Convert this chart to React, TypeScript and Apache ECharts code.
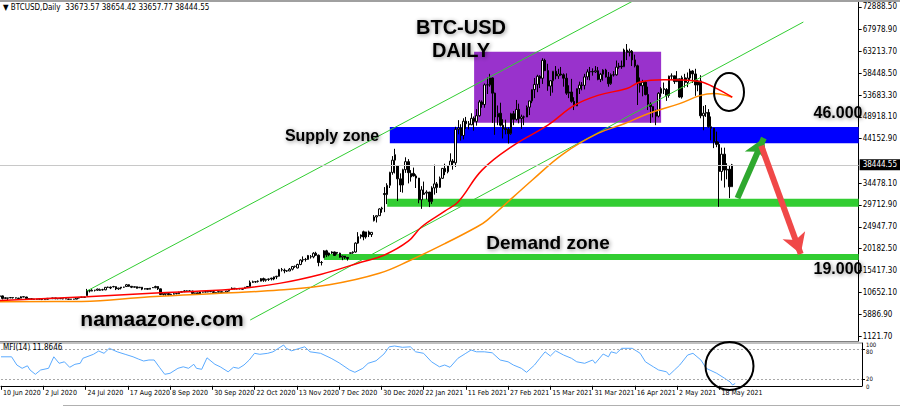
import React, { useEffect, useRef } from 'react';
import * as echarts from 'echarts';

// ---- time axis: one label every 16 bars, starting at bar 0
const dateTicks = ['10 Jun 2020', '2 Jul 2020', '24 Jul 2020', '17 Aug 2020', '8 Sep 2020', '30 Sep 2020', '22 Oct 2020', '13 Nov 2020', '7 Dec 2020', '30 Dec 2020', '22 Jan 2021', '11 Feb 2021', '27 Feb 2021', '15 Mar 2021', '31 Mar 2021', '16 Apr 2021', '2 May 2021', '18 May 2021'];
const barsPerTick = 16;
const slotCount = 327;

// ---- price axis tick labels
const priceTicks = [1121.7, 5886.9, 10652.1, 15417.3, 20182.5, 24947.7, 29712.9, 34478.1, 44152.9, 48918.1, 53683.3, 58448.5, 63213.7, 67978.9, 72888.5];
const mfiTicks = [0, 20, 80, 100];
const mfiLevels = [80, 20];
const lastBar = { open: 33673.57, high: 38654.42, low: 33657.77, close: 38444.55 };
const mfiLast = 11.8646;

// ---- daily bars, thousands of USD: [open, high, low, close]
const jun2020 = [[9.77,9.99,9.69,9.87],[9.87,9.94,9.08,9.32],[9.32,9.55,9.25,9.47],[9.38,9.49,8.91,9.43],[9.43,9.58,9.38,9.52],[9.52,9.56,9.28,9.46],[9.46,9.48,9.30,9.39],[9.39,9.44,9.23,9.30],[9.36,9.78,9.35,9.68],[9.68,9.69,9.57,9.63],[9.63,9.66,9.23,9.29],[9.29,9.32,9.07,9.25],[9.25,9.30,9.05,9.16],[9.10,9.23,9.02,9.19],[9.19,9.20,9.08,9.14],[9.14,9.30,9.10,9.23]];
const jul2020 = [[9.23,9.27,8.95,9.09],[9.09,9.13,9.05,9.06],[9.13,9.36,9.06,9.34],[9.34,9.36,9.20,9.25],[9.25,9.45,9.23,9.43],[9.43,9.43,9.17,9.23],[9.23,9.31,9.13,9.29],[9.30,9.34,9.20,9.24],[9.24,9.28,9.12,9.25],[9.25,9.27,9.17,9.19],[9.19,9.21,9.00,9.13],[9.13,9.18,9.09,9.15],[9.17,9.19,9.13,9.16],[9.16,9.40,9.15,9.39],[9.39,9.54,9.28,9.53],[9.53,9.64,9.46,9.61],[9.61,9.63,9.47,9.55],[9.93,11.39,9.90,11.04],[11.04,11.24,10.62,10.92],[10.92,11.34,10.87,11.10],[11.10,11.17,10.84,11.11],[11.11,11.45,10.98,11.35]];
const aug2020 = [[11.06,11.47,10.97,11.23],[11.23,11.42,11.03,11.19],[11.19,11.79,11.11,11.74],[11.74,11.90,11.59,11.77],[11.77,11.91,11.35,11.60],[11.90,12.06,11.70,11.88],[11.88,11.94,11.14,11.40],[11.40,11.62,11.17,11.58],[11.58,11.80,11.29,11.78],[11.78,11.85,11.64,11.77],[11.91,12.47,11.86,12.30],[12.30,12.40,11.82,11.96],[11.96,12.03,11.57,11.76],[11.76,11.90,11.68,11.87],[11.87,11.88,11.50,11.52],[11.65,11.80,11.59,11.76],[11.76,11.77,11.12,11.34],[11.34,11.53,11.26,11.47],[11.47,11.59,11.15,11.32],[11.32,11.55,11.30,11.54]];
const sep2020 = [[11.68,11.76,11.60,11.66],[11.66,12.09,11.54,11.92],[11.92,11.95,11.16,11.40],[11.40,11.46,10.04,10.17],[10.17,10.63,9.95,10.47],[10.26,10.40,9.88,10.37],[10.37,10.43,9.85,10.13],[10.13,10.35,10.02,10.23],[10.23,10.49,10.20,10.35],[10.35,10.39,10.21,10.40],[10.33,10.78,10.27,10.68],[10.68,10.94,10.63,10.79],[10.79,11.10,10.70,10.96],[10.96,11.04,10.74,10.94],[10.94,11.03,10.82,10.93],[10.92,10.99,10.36,10.42],[10.42,10.57,10.36,10.53],[10.53,10.55,10.14,10.24],[10.24,10.77,10.21,10.74],[10.74,10.77,10.60,10.69],[10.77,10.95,10.65,10.71],[10.71,10.86,10.65,10.84]];
const oct2020 = [[10.84,10.85,10.70,10.78],[10.78,10.92,10.53,10.62],[10.62,10.65,10.38,10.57],[10.67,10.80,10.64,10.79],[10.79,10.80,10.53,10.60],[10.60,10.69,10.56,10.67],[10.67,10.94,10.54,10.92],[10.92,11.10,10.83,11.06],[11.38,11.72,11.23,11.54],[11.54,11.56,11.30,11.43],[11.43,11.55,11.29,11.43],[11.43,11.56,11.28,11.50],[11.50,11.54,11.22,11.32],[11.50,11.82,11.41,11.75],[11.75,11.99,11.69,11.92],[11.92,13.22,11.90,12.82],[12.82,13.19,12.71,12.97],[12.97,13.03,12.73,12.93],[13.03,13.24,12.78,13.07],[13.07,13.77,13.06,13.64],[13.64,13.85,12.93,13.28],[13.28,13.62,12.98,13.46],[13.46,13.66,13.13,13.56]];
const nov2020 = [[13.74,13.83,13.24,13.55],[13.55,14.07,13.29,14.02],[14.02,14.24,13.53,14.15],[14.15,15.76,14.10,15.59],[15.59,15.96,15.19,15.58],[15.48,15.84,14.81,15.33],[15.33,15.46,15.09,15.30],[15.30,15.95,15.28,15.70],[15.70,16.34,15.43,16.29],[16.29,16.48,15.99,16.33],[15.96,16.88,15.87,16.72],[16.72,17.86,16.56,17.68],[17.68,18.48,17.22,17.80],[17.80,18.15,17.35,17.82],[17.82,18.80,17.76,18.68],[18.42,18.77,18.00,18.38],[18.38,19.40,18.07,19.17],[19.17,19.49,18.57,18.74],[18.74,18.90,16.33,17.15],[17.15,17.47,16.51,17.14]];
const dec2020 = [[18.18,19.86,18.18,19.70],[19.70,19.92,18.33,18.79],[18.79,19.31,18.51,19.22],[19.22,19.59,19.03,19.45],[19.45,19.52,18.57,18.70],[19.36,19.42,18.90,19.19],[19.19,19.29,18.20,18.32],[18.32,18.64,17.65,18.55],[18.55,18.56,17.91,18.26],[18.26,18.27,17.57,18.04],[19.15,19.35,19.00,19.27],[19.27,19.57,19.05,19.44],[19.44,21.56,19.29,21.38],[21.38,23.77,21.23,22.80],[22.80,23.28,22.35,23.14],[23.86,24.10,22.00,22.72],[22.72,23.84,22.35,23.82],[23.82,24.10,22.70,23.24],[23.24,23.78,22.72,23.73],[26.28,27.50,26.10,27.08],[27.08,27.38,25.88,27.36],[27.36,28.99,27.32,28.84],[28.84,29.30,28.00,29.00]];
const jan2021 = [[32.20,33.60,28.13,31.97],[31.97,34.44,29.90,33.99],[33.99,36.94,33.40,36.80],[36.80,40.36,36.30,39.47],[39.47,41.95,36.57,40.67],[38.30,38.40,30.55,35.40],[35.40,36.60,32.53,34.05],[34.05,37.60,32.38,37.40],[37.40,40.10,36.70,39.15],[39.15,39.70,34.40,36.74],[35.80,37.30,34.80,36.59],[36.59,37.85,35.90,36.03],[36.03,36.40,33.40,35.56],[35.56,35.60,30.07,30.83],[30.83,33.80,28.85,32.99],[32.00,34.80,31.90,32.29],[32.29,32.90,30.90,32.51],[32.51,32.56,29.24,30.43],[30.43,33.78,29.90,33.42],[33.42,38.50,31.95,34.30]];
const feb2021 = [[34.30,34.70,32.30,33.54],[33.54,35.90,33.42,35.52],[35.52,37.70,35.36,37.68],[37.68,38.70,36.20,36.95],[36.95,38.30,36.60,38.29],[38.29,40.96,38.20,39.27],[39.27,39.70,37.40,38.90],[38.90,46.75,37.99,46.20],[46.20,48.20,45.10,46.48],[46.48,47.30,43.73,44.85],[44.85,48.60,44.00,47.97],[47.97,48.90,46.30,47.41],[47.41,48.00,46.20,47.19],[47.19,49.70,47.10,48.60],[48.60,49.00,45.90,47.93],[47.93,50.60,47.00,49.17],[49.17,52.60,48.95,52.17],[52.17,52.50,50.90,51.60],[51.60,56.20,50.90,55.90],[55.90,57.50,53.90,55.89],[55.89,58.30,55.50,57.41],[57.41,57.50,47.60,54.09],[54.09,54.20,45.00,48.89],[48.89,51.40,47.10,49.70],[49.70,52.00,46.80,47.09],[47.09,48.40,44.20,46.34],[46.34,48.30,45.10,46.15],[46.15,46.60,43.10,45.24]];
const mar2021 = [[45.24,49.80,45.00,49.60],[49.60,50.20,47.10,48.38],[48.38,52.60,48.10,50.54],[50.54,51.80,47.50,48.56],[48.56,49.40,46.30,48.90],[48.90,49.20,47.10,48.88],[48.88,51.40,48.90,51.02],[51.02,52.40,49.30,52.39],[52.39,54.90,51.90,54.86],[54.86,57.40,53.00,56.00],[56.00,58.10,54.30,57.77],[57.77,58.00,55.20,57.33],[57.33,61.70,56.10,61.24],[61.24,61.60,58.90,59.00],[59.00,60.50,54.60,55.63],[55.63,56.90,53.50,56.80],[56.80,58.90,54.20,58.87],[58.87,60.00,57.10,57.85],[57.85,59.40,57.20,58.26],[58.26,59.80,57.90,58.10],[58.10,58.40,55.50,57.35],[57.35,58.40,53.70,54.08],[54.08,55.80,53.00,54.34],[54.34,57.20,52.00,52.30],[52.30,53.20,50.40,51.31],[51.31,55.10,51.30,55.07],[55.07,56.60,53.90,55.85],[55.85,56.50,54.70,55.78],[55.78,58.30,54.90,57.63],[57.63,59.30,57.00,58.73],[58.73,59.80,56.90,58.80]];
const apr2021 = [[58.80,59.50,57.90,58.73],[58.73,60.00,58.50,58.98],[58.98,59.80,56.90,57.09],[57.09,58.50,56.50,58.21],[58.21,59.30,56.80,59.12],[59.12,59.40,57.50,57.60],[57.60,58.70,55.50,56.15],[56.15,58.40,55.90,58.09],[58.09,58.90,57.70,58.08],[58.08,61.20,57.90,59.77],[59.77,60.70,59.40,59.99],[59.99,61.20,59.40,59.84],[59.84,63.80,59.80,63.50],[63.50,64.80,61.30,62.96],[62.96,63.80,62.10,63.24],[63.24,63.50,60.00,61.34],[61.34,62.50,59.70,60.05],[60.05,60.30,51.50,56.25],[56.25,57.50,54.20,55.70],[55.70,57.00,53.40,56.48],[56.48,56.70,53.60,53.79],[53.79,55.50,50.40,51.70],[51.70,52.10,47.60,51.15],[51.15,51.20,48.80,50.11],[50.11,50.50,47.10,49.07],[49.07,54.30,48.80,54.06],[54.06,55.40,53.30,55.07],[55.07,56.40,53.90,54.88],[54.88,55.20,52.40,53.58],[53.58,57.90,53.10,57.80]];
const may2021 = [[57.80,58.40,57.00,57.86],[57.86,57.90,56.10,56.61],[56.61,58.90,56.50,57.21],[57.21,57.20,53.10,53.24],[53.24,57.90,52.90,57.47],[57.47,58.30,55.30,56.43],[56.43,58.60,55.40,57.38],[57.38,59.40,56.90,58.93],[58.93,59.10,56.30,58.28],[58.28,59.40,53.50,55.86],[55.86,57.00,54.50,56.75],[56.75,58.00,48.60,49.15],[49.15,51.30,46.00,49.72],[49.72,51.50,48.90,49.88],[49.88,50.60,46.60,46.76],[46.76,49.00,43.80,46.45],[46.45,46.50,42.10,43.54],[43.54,45.70,42.30,42.91],[42.91,43.50,29.30,37.00],[37.00,42.20,35.00,40.78],[40.78,42.20,33.50,37.31],[37.31,38.80,35.30,37.50],[37.50,38.20,31.20,33.67],[33.67357,38.65442,33.65777,38.44455]];

// ---- moving averages: [bar index, thousands USD]
const maRed = [[0,8.85],[33,9.68],[61,10.55],[88,11.3],[106,12.6],[122,14.6],[137,17.2],[146,18.8],[155,21.8],[160,24.9],[169,28.4],[174,30.4],[183,37.3],[195,42.7],[208,47.1],[218,51.4],[227,53.6],[238,55.1],[243,56.5],[252,57.0],[265,56.7],[271,55.4],[278,53.2]];
const maOrange = [[0,8.6],[31,8.65],[57,9.68],[88,10.55],[106,11.14],[125,12.3],[144,14.8],[156,17.7],[169,21.3],[181,24.9],[185,26.4],[202,35.1],[214,40.9],[227,45.3],[237,47.4],[246,49.6],[258,51.8],[266,53.6],[271,54.0],[278,53.2]];

// ---- MFI(14): [bar index, value]
const mfi = [[0,65],[4,65],[6,48.6],[8,42],[10,47],[11,38.6],[13,30],[15,38.6],[18,42],[20,65],[22,52],[24,55],[26,44],[28,50],[30,52],[31,62],[35,70],[37,76.6],[39,72],[41,82],[44,75],[47,70],[50,65],[52,60.6],[54,56.6],[56,58.6],[58,58.6],[60,44],[62,30],[64,32],[67,42],[69,45],[71,42],[73,50],[74,42],[76,40],[78,63],[81,50],[83,45],[86,35],[88,44],[90,42],[92,48.6],[94,58.6],[96,72],[98,70],[101,72],[103,75],[107,88.6],[108,82],[110,77],[115,85],[117,75],[121,72],[125,62],[128,53],[132,38.6],[134,34],[137,42],[139,52],[142,57],[145,70.6],[147,85],[149,86.6],[152,84],[155,85],[157,75],[160,72],[163,55],[166,45],[168,48.6],[170,44],[173,62],[176,72],[178,78.6],[180,75],[183,75],[186,73],[189,58.6],[192,55],[194,48.6],[197,42],[199,34],[202,48.6],[204,62],[206,75],[208,66.6],[210,77],[213,68.6],[216,62],[218,55],[221,52],[224,58.6],[225,52],[228,70.6],[230,65],[231,75],[233,72],[235,82],[239,82],[242,72],[244,55],[247,45],[249,38.6],[252,35],[253,28.6],[255,38.6],[257,48.6],[260,68.6],[262,72],[265,58.6],[267,42],[271,32],[274,22],[276,15],[277,8.6],[278,11.86]];

// ---- drawings anchored on [bar index, thousands USD]
const rangeZone = [180, 251, 63.13, 47.64];
const supplyZone = [148, 326, 46.7, 43.15];
const demandZoneHigh = [147, 326, 31.07, 29.32];
const demandZoneLow = [123, 326, 19.0, 17.7];
const channelUpper = [[33, 10.94], [241, 74.4]];
const channelLower = [[95, 4.61], [305, 69.6]];
const arrowUp = [[280, 31.2], [290, 44.3]];
const arrowDown = [[289, 42.6], [304, 19.0]];

const SANS = '"Liberation Sans", Arial, sans-serif';
const NARROW = '"Liberation Sans Narrow", "Arial Narrow", "DejaVu Sans Condensed", sans-serif';

export default function App() {
  const ref = useRef<HTMLDivElement>(null);
  useEffect(() => {
    const chart = echarts.init(ref.current!, null, { renderer: 'svg' });
    const bars = [...jun2020, ...jul2020, ...aug2020, ...sep2020, ...oct2020, ...nov2020, ...dec2020, ...jan2021, ...feb2021, ...mar2021, ...apr2021, ...may2021];
    const candles = bars.map(([o, h, l, c]) => [o * 1000, c * 1000, l * 1000, h * 1000]);
    const categories = Array.from({ length: slotCount }, (_, i) => String(i));
    const k = (pairs: number[][]) => pairs.map(([i, v]) => [i, v * 1000]);
    const isTick = (i: number) => i % barsPerTick === 0 && i / barsPerTick < dateTicks.length;
    const zoneArea = (z: number[], color: string) => [
      { xAxis: z[0], yAxis: z[2] * 1000, itemStyle: { color } },
      { xAxis: z[1], yAxis: z[3] * 1000 },
    ];
    const gridRight = 38;
    const plotWidth = 900 - gridRight;
    const pMin = 31.2, pMax = 73967;
    const mMin = 7, mMax = 92.6;
    const bigText = (text: string, x: number, y: number, size: number) => ({
      type: 'text', x, y, z: 50,
      style: {
        text, fill: '#000', font: `bold ${size}px ${SANS}`, align: 'center', verticalAlign: 'middle',
        textShadowColor: 'rgba(0,0,0,0.45)', textShadowBlur: 4, textShadowOffsetX: 1, textShadowOffsetY: 1,
      },
    });

    const graphics: any[] = [
      { type: 'rect', shape: { x: 0, y: 0, width: 900, height: 2 }, style: { fill: '#A0A0A0' }, z: 40 },
      { type: 'text', x: 3, y: 7, z: 50, style: { text: `▼ BTCUSD,Daily  ${lastBar.open.toFixed(2)} ${lastBar.high.toFixed(2)} ${lastBar.low.toFixed(2)} ${lastBar.close.toFixed(2)}`, fill: '#000', font: `8px ${NARROW}`, verticalAlign: 'middle' } },
      { type: 'text', x: 3, y: 347, z: 50, style: { text: `MFI(14) ${mfiLast.toFixed(4)}`, fill: '#000', font: `8px ${NARROW}`, verticalAlign: 'middle' } },
      { type: 'line', shape: { x1: 0, y1: 343, x2: plotWidth, y2: 343 }, style: { stroke: '#808080', lineWidth: 1 }, z: 40 },
      { type: 'line', shape: { x1: 63, y1: 405.5, x2: 900, y2: 405.5 }, style: { stroke: '#B0B0B0', lineWidth: 1 }, z: 40 },
      bigText('BTC-USD', 461, 27, 20),
      bigText('DAILY', 461, 50, 20),
      bigText('Supply zone', 332, 135, 16),
      bigText('46.000', 838, 112, 16),
      bigText('Demand zone', 548, 242, 19),
      bigText('19.000', 838, 268, 16),
      bigText('namaazone.com', 162, 318, 21),
      { type: 'ellipse', shape: { cx: 729, cy: 92, rx: 15, ry: 19 }, style: { fill: 'none', stroke: '#000', lineWidth: 2 }, z: 45 },
      { type: 'ellipse', shape: { cx: 729.5, cy: 366, rx: 24, ry: 24 }, style: { fill: 'none', stroke: '#000', lineWidth: 2 }, z: 45 },
    ];

    chart.setOption({
      animation: false,
      backgroundColor: '#fff',
      grid: [
        { left: 0, right: gridRight, top: 2, bottom: 67 },
        { left: 0, right: gridRight, top: 343, height: 42.8 },
      ],
      xAxis: [
        { type: 'category', gridIndex: 0, data: categories, boundaryGap: false,
          axisLine: { show: true, lineStyle: { color: '#808080' } }, axisTick: { show: false }, axisLabel: { show: false }, splitLine: { show: false } },
        { type: 'category', gridIndex: 1, data: categories, boundaryGap: false,
          axisLine: { show: true, lineStyle: { color: '#000' } },
          axisTick: { show: true, interval: (i: number) => isTick(i), length: 4, lineStyle: { color: '#000' } },
          axisLabel: { interval: (i: number) => isTick(i), formatter: (_v: string, i: number) => dateTicks[i / barsPerTick] ?? '',
            align: 'left', margin: 4, padding: [0, 0, 0, 2], fontSize: 7, color: '#000', fontFamily: NARROW },
          splitLine: { show: false } },
      ],
      yAxis: [
        { type: 'value', gridIndex: 0, position: 'right', min: pMin, max: pMax,
          axisLine: { show: true, lineStyle: { color: '#000' } },
          axisTick: { show: true, customValues: priceTicks, length: 3, lineStyle: { color: '#000' } },
          axisLabel: { customValues: priceTicks, formatter: (v: number) => v.toFixed(2), fontSize: 8, lineHeight: 7, color: '#000', margin: 4, fontFamily: NARROW },
          splitLine: { show: false } },
        { type: 'value', gridIndex: 1, position: 'right', min: mMin, max: mMax,
          axisLine: { show: true, lineStyle: { color: '#000' } },
          axisTick: { show: true, customValues: mfiLevels, length: 3, lineStyle: { color: '#000' } },
          axisLabel: { show: false },
          splitLine: { show: false } },
      ],
      series: [
        { type: 'line', xAxisIndex: 0, yAxisIndex: 0, data: [], z: 1, silent: true,
          markArea: { silent: true, data: [
            zoneArea(rangeZone, '#9932CC'),
            zoneArea(supplyZone, '#0000FF'),
            zoneArea(demandZoneHigh, '#32CD32'),
            zoneArea(demandZoneLow, '#32CD32'),
          ] } },
        { type: 'candlestick', xAxisIndex: 0, yAxisIndex: 0, data: candles, barWidth: 2, z: 2,
          itemStyle: { color: '#fff', color0: '#000', borderColor: '#000', borderColor0: '#000', borderWidth: 1 },
          markLine: { silent: true, symbol: 'none', animation: false,
            lineStyle: { color: '#C8C8C8', width: 1, type: 'solid' },
            label: { show: true, position: 'end', distance: 1, formatter: lastBar.close.toFixed(2), backgroundColor: '#000', color: '#fff',
              fontSize: 8, fontFamily: NARROW, padding: [2, 8, 1, 3] },
            data: [{ yAxis: lastBar.close }] } },
        { type: 'line', xAxisIndex: 0, yAxisIndex: 0, data: k(channelUpper), z: 3, symbol: 'none', silent: true, lineStyle: { color: '#32CD32', width: 1 } },
        { type: 'line', xAxisIndex: 0, yAxisIndex: 0, data: k(channelLower), z: 3, symbol: 'none', silent: true, lineStyle: { color: '#32CD32', width: 1 } },
        { type: 'line', xAxisIndex: 0, yAxisIndex: 0, data: k(maOrange), z: 4, symbol: 'none', smooth: 0.4, silent: true, lineStyle: { color: '#FF8C00', width: 1.5 } },
        { type: 'line', xAxisIndex: 0, yAxisIndex: 0, data: k(maRed), z: 4, symbol: 'none', smooth: 0.4, silent: true, lineStyle: { color: '#FF0000', width: 1.5 } },
        { type: 'line', xAxisIndex: 0, yAxisIndex: 0, data: [], z: 6, silent: true,
          markLine: { silent: true, symbol: ['none', 'arrow'], symbolSize: [18, 20], label: { show: false },
            data: [
              [{ coord: k(arrowUp)[0], lineStyle: { color: '#2EA82E', width: 6, type: 'solid' }, itemStyle: { color: '#2EA82E' } }, { coord: k(arrowUp)[1] }],
              [{ coord: k(arrowDown)[0], lineStyle: { color: '#F04848', width: 6, type: 'solid' }, itemStyle: { color: '#F04848' } }, { coord: k(arrowDown)[1] }],
            ] } },
        { type: 'line', xAxisIndex: 1, yAxisIndex: 1, data: mfi, symbol: 'none', silent: true, z: 3, lineStyle: { color: '#5AAAFF', width: 1 },
          markLine: { silent: true, symbol: 'none', label: { show: false }, lineStyle: { color: '#A8A8A8', width: 1, type: [2, 2] },
            data: mfiLevels.map((v) => ({ yAxis: v })) } },
      ],
      graphic: graphics,
    });

    // MFI pane scale labels (0 / 20 / 80 / 100), placed through the pane's own scale;
    // 0 and 100 sit on the pane's edges, the nudges keep the stacked labels from colliding
    const nudge: Record<number, number> = { 0: 1, 20: -0.5, 80: 1.8, 100: 1.3 };
    const mfiLabels = mfiTicks.map((v) => {
      const y = chart.convertToPixel({ yAxisIndex: 1 }, Math.min(Math.max(v, mMin), mMax)) as number;
      return { type: 'text', x: plotWidth + 4, y: y + (nudge[v] ?? 0), z: 50,
        style: { text: String(v), fill: '#000', font: `6px ${NARROW}`, verticalAlign: 'middle' } };
    });
    chart.setOption({ graphic: { elements: [...graphics, ...mfiLabels] } });
    return () => chart.dispose();
  }, []);
  return <div ref={ref} style={{ position: 'fixed', left: 0, top: 0, width: 900, height: 408, background: '#fff' }} />;
}
